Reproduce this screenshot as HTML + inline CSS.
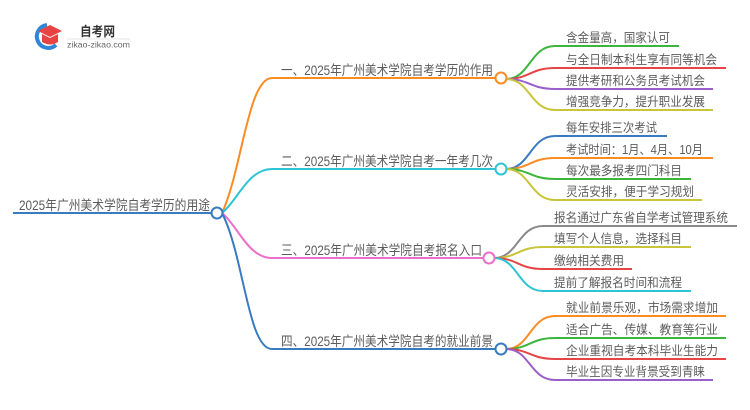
<!DOCTYPE html>
<html><head><meta charset="utf-8"><style>
html,body{margin:0;padding:0;background:#fff;}
svg{display:block;}
text{font-family:"Liberation Sans","Noto Sans CJK SC",sans-serif;fill:#5c5c5c;}
</style></head><body>
<svg width="750" height="410" viewBox="0 0 750 410" xmlns="http://www.w3.org/2000/svg">
<!-- logo -->
<g>
  <path d="M47,25 A11.5,11.5 0 1 0 56,45" fill="none" stroke="#2f86d6" stroke-width="4"/>
  <path d="M38,31 L50,25 L62,31 L50,37 Z" fill="#e84343"/>
  <path d="M42,34 L42,42 Q50,47 58,42 L58,34 L50,38 Z" fill="#e84343"/>
  <text x="80" y="36" font-size="13" font-weight="bold" style="fill:#333" textLength="35" lengthAdjust="spacingAndGlyphs">自考网</text>
  <line x1="67" y1="39" x2="130" y2="39" stroke="#e6e6e6" stroke-width="1"/>
  <text x="67" y="47.5" font-size="8.5" style="fill:#666" textLength="63" lengthAdjust="spacingAndGlyphs">zikao-zikao.com</text>
</g>

<!-- root -->
<line x1="13" y1="213" x2="212" y2="213" stroke="#3a7bc0" stroke-width="2"/>
<text x="19" y="210" font-size="13.5" textLength="191" lengthAdjust="spacingAndGlyphs">2025年广州美术学院自考学历的用途</text>

<!-- main curves -->
<path d="M222,213 C242,170 248,78 272,78 L496,78" fill="none" stroke="#fb8c24" stroke-width="2"/>
<path d="M222,213 C238,200 248,169 272,169 L496,169" fill="none" stroke="#2ec4d6" stroke-width="2"/>
<path d="M222,213 C238,226 248,258 272,258 L484,258" fill="none" stroke="#eb6fc8" stroke-width="2"/>
<path d="M222,213 C244,256 248,349 272,349 L496,349" fill="none" stroke="#3a7bc0" stroke-width="2"/>
<circle cx="217" cy="213" r="5.5" fill="#fff" stroke="#3a7bc0" stroke-width="2"/>

<!-- branch labels -->
<text x="281" y="75" font-size="13.5" textLength="212" lengthAdjust="spacingAndGlyphs">一、2025年广州美术学院自考学历的作用</text>
<text x="281" y="166" font-size="13.5" textLength="212" lengthAdjust="spacingAndGlyphs">二、2025年广州美术学院自考一年考几次</text>
<text x="281" y="255" font-size="13.5" textLength="201" lengthAdjust="spacingAndGlyphs">三、2025年广州美术学院自考报名入口</text>
<text x="281" y="346" font-size="13.5" textLength="212" lengthAdjust="spacingAndGlyphs">四、2025年广州美术学院自考的就业前景</text>

<!-- branch 1 leaves -->
<path d="M506,79 C530,79 530,46 555,46 L679,46" fill="none" stroke="#3db53d" stroke-width="2"/>
<path d="M506,79 C530,79 530,68 555,68 L726,68" fill="none" stroke="#e64545" stroke-width="2"/>
<path d="M506,79 C530,79 530,89 555,89 L713,89" fill="none" stroke="#9b5fcb" stroke-width="2"/>
<path d="M506,79 C530,79 530,110 555,110 L713,110" fill="none" stroke="#c8c53a" stroke-width="2"/>
<circle cx="501" cy="78" r="5.5" fill="#fff" stroke="#fb8c24" stroke-width="2"/>
<text x="566" y="42" font-size="12.5" textLength="104" lengthAdjust="spacingAndGlyphs">含金量高，国家认可</text>
<text x="566" y="64" font-size="12.5" textLength="151" lengthAdjust="spacingAndGlyphs">与全日制本科生享有同等机会</text>
<text x="566" y="85" font-size="12.5" textLength="139" lengthAdjust="spacingAndGlyphs">提供考研和公务员考试机会</text>
<text x="566" y="106" font-size="12.5" textLength="139" lengthAdjust="spacingAndGlyphs">增强竞争力，提升职业发展</text>

<!-- branch 2 leaves -->
<path d="M506,169 C530,169 530,136 555,136 L667,136" fill="none" stroke="#3a7bc0" stroke-width="2"/>
<path d="M506,169 C530,169 530,158 555,158 L713,158" fill="none" stroke="#fb8c24" stroke-width="2"/>
<path d="M506,169 C530,169 530,179 555,179 L691,179" fill="none" stroke="#3db53d" stroke-width="2"/>
<path d="M506,169 C530,169 530,200 555,200 L702,200" fill="none" stroke="#c8c53a" stroke-width="2"/>
<circle cx="501" cy="169" r="5.5" fill="#fff" stroke="#2ec4d6" stroke-width="2"/>
<text x="566" y="132" font-size="12.5" textLength="91" lengthAdjust="spacingAndGlyphs">每年安排三次考试</text>
<text x="566" y="154" font-size="12.5" textLength="137" lengthAdjust="spacingAndGlyphs">考试时间：1月、4月、10月</text>
<text x="566" y="175" font-size="12.5" textLength="116" lengthAdjust="spacingAndGlyphs">每次最多报考四门科目</text>
<text x="566" y="196" font-size="12.5" textLength="128" lengthAdjust="spacingAndGlyphs">灵活安排，便于学习规划</text>

<!-- branch 3 leaves -->
<path d="M494,258 C518,258 518,226 543,226 L737,226" fill="none" stroke="#8a8a8a" stroke-width="2"/>
<path d="M494,258 C518,258 518,247 543,247 L691,247" fill="none" stroke="#c8c53a" stroke-width="2"/>
<path d="M494,258 C518,258 518,269 543,269 L632,269" fill="none" stroke="#e64545" stroke-width="2"/>
<path d="M494,258 C518,258 518,291 543,291 L691,291" fill="none" stroke="#2ec4d6" stroke-width="2"/>
<circle cx="489" cy="258" r="5.5" fill="#fff" stroke="#eb6fc8" stroke-width="2"/>
<text x="554" y="222" font-size="12.5" textLength="174" lengthAdjust="spacingAndGlyphs">报名通过广东省自学考试管理系统</text>
<text x="554" y="243" font-size="12.5" textLength="128" lengthAdjust="spacingAndGlyphs">填写个人信息，选择科目</text>
<text x="554" y="265" font-size="12.5" textLength="70" lengthAdjust="spacingAndGlyphs">缴纳相关费用</text>
<text x="554" y="287" font-size="12.5" textLength="128" lengthAdjust="spacingAndGlyphs">提前了解报名时间和流程</text>

<!-- branch 4 leaves -->
<path d="M506,349 C530,349 530,316 555,316 L726,316" fill="none" stroke="#fb8c24" stroke-width="2"/>
<path d="M506,349 C530,349 530,338 555,338 L726,338" fill="none" stroke="#3db53d" stroke-width="2"/>
<path d="M506,349 C530,349 530,359 555,359 L726,359" fill="none" stroke="#e64545" stroke-width="2"/>
<path d="M506,349 C530,349 530,380 555,380 L713,380" fill="none" stroke="#9b5fcb" stroke-width="2"/>
<circle cx="501" cy="349" r="5.5" fill="#fff" stroke="#3a7bc0" stroke-width="2"/>
<text x="566" y="312" font-size="12.5" textLength="152" lengthAdjust="spacingAndGlyphs">就业前景乐观，市场需求增加</text>
<text x="566" y="334" font-size="12.5" textLength="152" lengthAdjust="spacingAndGlyphs">适合广告、传媒、教育等行业</text>
<text x="566" y="355" font-size="12.5" textLength="152" lengthAdjust="spacingAndGlyphs">企业重视自考本科毕业生能力</text>
<text x="566" y="376" font-size="12.5" textLength="139" lengthAdjust="spacingAndGlyphs">毕业生因专业背景受到青睐</text>
</svg>
</body></html>
